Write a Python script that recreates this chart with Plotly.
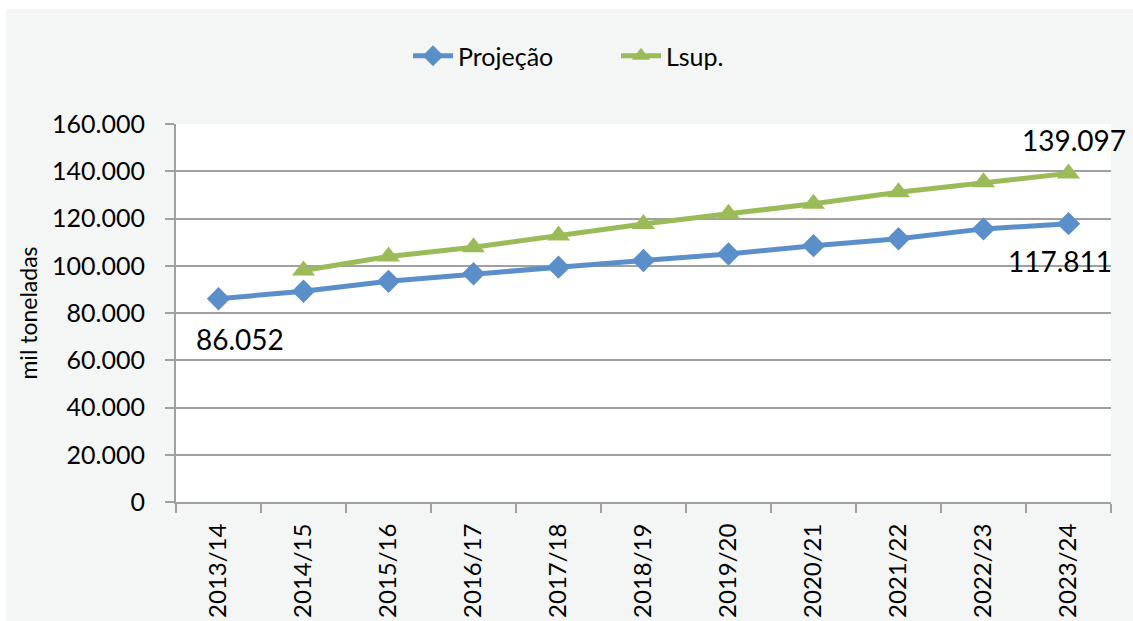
import plotly.graph_objects as go

# Safra (crop-year) categories
safras = ["2013/14", "2014/15", "2015/16", "2016/17", "2017/18", "2018/19",
          "2019/20", "2020/21", "2021/22", "2022/23", "2023/24"]

# Projection, thousand tonnes
projecao = [86052, 89200, 93400, 96600, 99400, 102200,
            105000, 108500, 111400, 115600, 117811]

# Upper limit, thousand tonnes (no value for the first safra)
lsup = [None, 98000, 103900, 107800, 112800, 117700,
        122000, 126200, 131100, 135300, 139097]

y_ticks = [0, 20000, 40000, 60000, 80000, 100000, 120000, 140000, 160000]

BLUE = "#5b8fca"
GREEN = "#9bbb59"
GRID = "#a0a0a0"
PANEL = "#f4f6f6"
FONT = "Lato"


def fmt(v):
    return f"{v:,}".replace(",", ".")


fig = go.Figure()

fig.add_trace(go.Scatter(
    x=safras, y=projecao, name="Projeção", mode="lines+markers",
    line=dict(color=BLUE, width=5),
    marker=dict(symbol="diamond", size=18, color=BLUE),
))
fig.add_trace(go.Scatter(
    x=safras, y=lsup, name="Lsup.", mode="lines+markers",
    line=dict(color=GREEN, width=5),
    marker=dict(symbol="triangle-up", size=20, color=GREEN),
))

# value labels on the first and last points
label_font = dict(family=FONT, size=28, color="#000000")
fig.add_annotation(x=safras[0], y=projecao[0], text=fmt(projecao[0]),
                   showarrow=False, xshift=21, yshift=-40, font=label_font)
fig.add_annotation(x=safras[-1], y=projecao[-1], text=fmt(projecao[-1]),
                   showarrow=False, xshift=-9, yshift=-37, font=label_font)
fig.add_annotation(x=safras[-1], y=lsup[-1], text=fmt(lsup[-1]),
                   showarrow=False, xshift=5, yshift=33, font=label_font)

# white strips framing the grey chart panel on the left and top
W, H = 1133, 621
ml, mr, mt, mb = 176, 22, 124, 119
pw, ph = W - ml - mr, H - mt - mb


def px_x(p):
    return (p - ml) / pw


def px_y(p):
    return (H - mb - p) / ph


fig.add_shape(type="rect", xref="paper", yref="paper", layer="below",
              x0=px_x(-5), x1=px_x(6), y0=px_y(H + 5), y1=px_y(-5),
              fillcolor="white", line_width=0)
fig.add_shape(type="rect", xref="paper", yref="paper", layer="below",
              x0=px_x(-5), x1=px_x(W + 5), y0=px_y(9), y1=px_y(-5),
              fillcolor="white", line_width=0)

fig.update_layout(
    width=W, height=H,
    margin=dict(l=ml, r=mr, t=mt, b=mb, autoexpand=False),
    paper_bgcolor=PANEL,
    plot_bgcolor="white",
    separators=",.",
    font=dict(family=FONT, size=24, color="#000000"),
    showlegend=True,
    legend=dict(orientation="h", x=px_x(408), xanchor="left",
                y=px_y(56), yanchor="middle",
                font=dict(family=FONT, size=25), itemwidth=40,
                entrywidth=153,
                bgcolor="rgba(0,0,0,0)", traceorder="normal"),
)

fig.update_xaxes(
    type="category", range=[-0.5, len(safras) - 0.5],
    tickangle=-90, tickson="boundaries", automargin=False,
    ticks="outside", ticklen=9, tickwidth=2, tickcolor=GRID,
    ticklabelstandoff=10,
    showline=True, linecolor=GRID, linewidth=2,
    showgrid=False, tickfont=dict(family=FONT, size=24),
)
fig.update_yaxes(
    range=[0, 160000], tickvals=y_ticks, tickformat=",d", automargin=False,
    ticks="outside", ticklen=9, tickwidth=2, tickcolor=GRID,
    ticklabelstandoff=15,
    showline=True, linecolor=GRID, linewidth=2,
    showgrid=True, gridcolor=GRID, gridwidth=2,
    zeroline=False, tickfont=dict(family=FONT, size=25),
    title=dict(text="mil toneladas", font=dict(family=FONT, size=23),
               standoff=8),
)

fig.write_html("out.html")
